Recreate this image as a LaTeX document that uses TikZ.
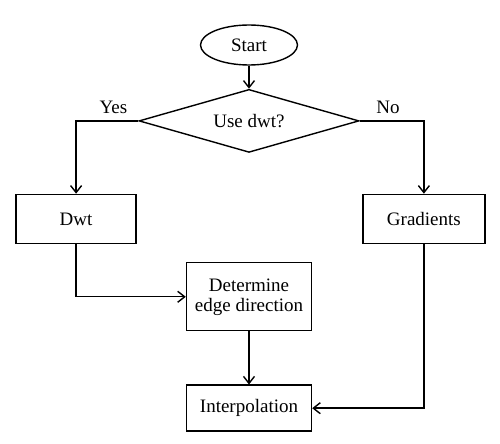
\documentclass[tikz,border=0pt]{standalone}
\usepackage{fontspec}
\setmainfont{Liberation Serif}
\usetikzlibrary{arrows.meta,shapes.geometric,positioning}

\begin{document}
\begin{tikzpicture}[->,>={Straight Barb[length=3.5pt,width=5.5pt]},line width=0.7pt,
every node/.style={font=\fontsize{9.5}{10}\selectfont},
start node/.style={ellipse,draw,inner sep=0pt,minimum width=48.5pt,minimum height=20pt},
test node/.style={diamond,draw,aspect=3.5,inner sep=0pt,minimum width=110pt,minimum height=31.5pt},
main node/.style={rectangle,draw,align=center,inner sep=0pt,minimum height=24.5pt}]

\useasboundingbox (0,0) rectangle (250pt,-222pt);

\node[start node] (1) at (124.5pt,-22.5pt) {Start};
\node[test node] (2) [below=11.5pt of 1] {Use dwt?};
\node[main node,minimum width=62.5pt,minimum height=34pt] (5) [below=54.5pt of 2] {Determine\\edge direction};
\node[main node,minimum width=60pt] (3) [above left=9pt and 24.5pt of 5] {Dwt};
\node[main node,minimum width=61pt] (4) [above right=9pt and 25pt of 5] {Gradients};
\node[main node,minimum width=62.5pt,minimum height=23pt] (6) [below=26.5pt of 5] {Interpolation};

\path
(1) edge (2)
(5) edge (6);

\draw (2.west) -| node[pos=0.2,above] {Yes} (3);
\draw (2.east) -| node[pos=0.22,above] {No} (4);
\draw (3) |- (5);
\draw (4) |- (6);
\end{tikzpicture}
\end{document}
